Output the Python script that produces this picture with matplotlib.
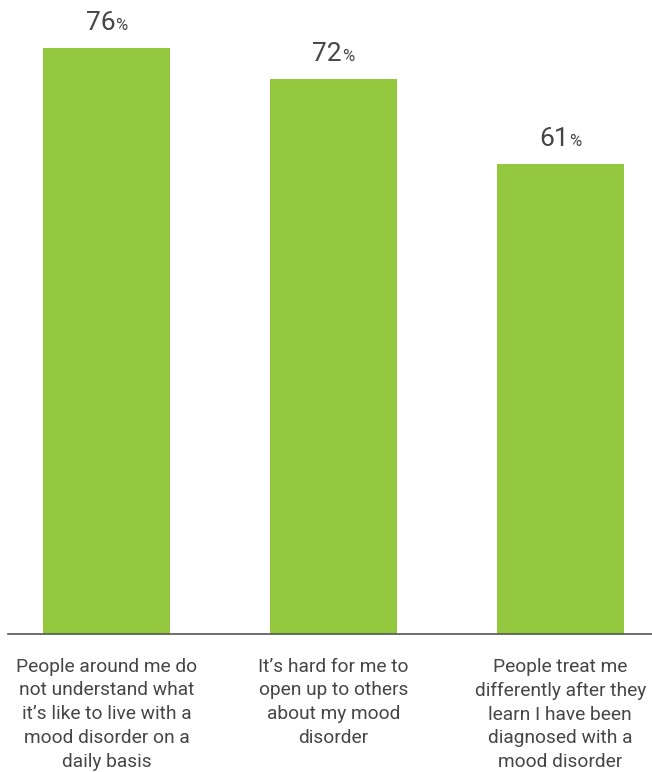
import matplotlib
matplotlib.use("Agg")
import matplotlib.pyplot as plt
from matplotlib.offsetbox import TextArea, HPacker, AnnotationBbox

categories = [
    "People around me do\nnot understand what\nit\u2019s like to live with a\nmood disorder on a\ndaily basis",
    "It\u2019s hard for me to\nopen up to others\nabout my mood\ndisorder",
    "People treat me\ndifferently after they\nlearn I have been\ndiagnosed with a\nmood disorder",
]
values = [76, 72, 61]

BAR_COLOR = "#93c83e"
TEXT_COLOR = "#464646"

plt.rcParams["font.family"] = ["Roboto", "DejaVu Sans"]

fig = plt.figure(figsize=(6.52, 7.72), dpi=100)
ax = fig.add_axes([8 / 652, 138 / 772, 644 / 652, 617 / 772])

x = list(range(len(values)))
ax.bar(x, values, width=0.56, color=BAR_COLOR, zorder=2)

ax.set_xlim(-0.434, 2.405)
ax.set_ylim(0, 80)

for s in ["top", "right", "left"]:
    ax.spines[s].set_visible(False)
ax.spines["bottom"].set_color("#555555")
ax.spines["bottom"].set_linewidth(1.2)
ax.set_xticks([])
ax.set_yticks([])

# value labels: large number with a smaller percent sign
for xi, v in zip(x, values):
    num = TextArea(str(v), textprops=dict(fontsize=19, color=TEXT_COLOR))
    pct = TextArea("%", textprops=dict(fontsize=12, color=TEXT_COLOR))
    pack = HPacker(children=[num, pct], align="baseline", pad=0, sep=0)
    ab = AnnotationBbox(pack, (xi, v), xybox=(0, 9), xycoords="data",
                        boxcoords="offset points", box_alignment=(0.5, 0),
                        frameon=False, pad=0)
    ax.add_artist(ab)

# category labels under the baseline
for xi, label in zip(x, categories):
    ax.annotate(label, xy=(xi, 0), xytext=(0, -17), textcoords="offset points",
                ha="center", va="top", fontsize=13.8, color=TEXT_COLOR,
                linespacing=1.42, annotation_clip=False)

fig.savefig("out.png", dpi=100)
